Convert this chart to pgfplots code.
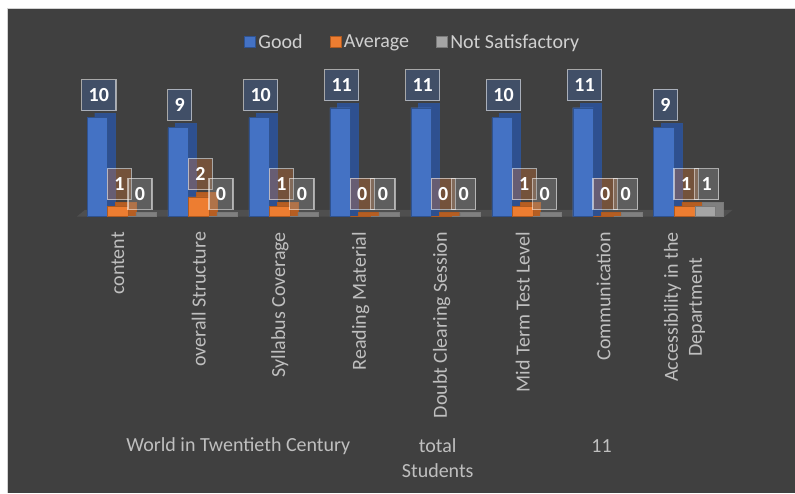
\documentclass[border=0pt]{standalone}
\usepackage{pgfplots}
\pgfplotsset{compat=1.18}
\usepackage{pgfplotstable}
\usepackage{fontspec}
\setmainfont{Carlito}

\definecolor{bg}{HTML}{404040}
\definecolor{floorc}{HTML}{4F4F4F}
\definecolor{txt}{HTML}{BFBFBF}
\definecolor{legtxt}{HTML}{D0D0D0}
\definecolor{goodc}{HTML}{4472C4}
\definecolor{goodd}{HTML}{2F528F}
\definecolor{goods}{HTML}{2E5090}
\definecolor{avgc}{HTML}{ED7D31}
\definecolor{avgd}{HTML}{AE5A21}
\definecolor{avgs}{HTML}{B65E22}
\definecolor{nsc}{HTML}{A5A5A5}
\definecolor{nsd}{HTML}{7A7A7A}
\definecolor{nss}{HTML}{808080}

% ratings per aspect: Good, Average, Not Satisfactory
\pgfplotstableread{
x good avg ns
0 10 1 0
1 9 2 0
2 10 1 0
3 11 0 0
4 11 0 0
5 10 1 0
6 11 0 0
7 9 1 1
}\ratings

\newcommand{\bigf}{\fontsize{20}{24}\selectfont}

\begin{document}
\begin{tikzpicture}[x=1pt,y=1pt]
\fill[white] (0,0) rectangle (795,493);
\draw[gray!35, line width=1pt] (7.5,0) -- (7.5,484.5) -- (795,484.5);
\fill[bg] (8,0) rectangle (795,484);
% floor of the 3-d chart
\fill[floorc] (77,276.3) -- (725,276.3) -- (733,283) -- (85,283) -- cycle;
\begin{axis}[
    at={(77.5pt,276.3pt)}, anchor=south west,
    scale only axis, width=648pt, height=118.8pt,
    xmin=-0.5, xmax=7.5, ymin=0, ymax=12,
    clip=false,
    axis line style={draw=none},
    major tick length=0pt,
    ytick=\empty,
    xtick=data,
    xticklabels={content,overall Structure,Syllabus Coverage,Reading Material,Doubt Clearing Session,Mid Term Test Level,Communication,{Accessibility in the\\Department}},
    xticklabel style={rotate=90, anchor=east, align=center, text=txt, font=\bigf, inner sep=0pt, xshift=-15.3pt},
    /pgf/number format/assume math mode=true,
    ybar, bar width=20.6pt,
    legend columns=3,
    legend style={at={(0.5177,1.4705)}, anchor=center, draw=none, fill=none,
        text=legtxt, font=\bigf,
        /tikz/every even column/.append style={column sep=25pt}},
    legend image code/.code={\filldraw[#1, line width=1.2pt] (0pt,-5.5pt) rectangle (11pt,5.5pt);},
    every node near coord/.append style={anchor=south, yshift=6.5pt, xshift=1.5pt,
        font=\bfseries\bigf, text=white, text opacity=1, draw=white, draw opacity=0.55,
        line width=1.2pt, inner xsep=7pt, minimum height=31pt},
]
% Good
\addplot[fill=goods, draw=goodd, bar shift=-12.9pt, forget plot] table[x=x, y expr=\thisrow{good}+0.45] {\ratings};
\addplot[fill=goodc, draw=goodd, bar shift=-20.6pt, nodes near coords,
    every node near coord/.append style={fill=goodc, fill opacity=0.3}] table[x=x, y=good] {\ratings};
\addlegendentry{Good}
% Average
\addplot[fill=avgs, draw=avgd, bar shift=7.7pt, forget plot] table[x=x, y expr=\thisrow{avg}+0.45] {\ratings};
\addplot[fill=avgc, draw=avgd, bar shift=0pt, nodes near coords,
    every node near coord/.append style={fill=avgc, fill opacity=0.3}] table[x=x, y=avg] {\ratings};
\addlegendentry{Average}
% Not Satisfactory
\addplot[fill=nss, draw=nsd, bar shift=28.3pt, forget plot] table[x=x, y expr=\thisrow{ns}+0.45] {\ratings};
\addplot[fill=nsc, draw=nsd, bar shift=20.6pt, nodes near coords,
    every node near coord/.append style={fill=nsc, fill opacity=0.3}] table[x=x, y=ns] {\ratings};
\addlegendentry{Not Satisfactory}
\end{axis}
\node[text=txt, font=\bigf] at (238.5,47) {World in Twentieth Century};
\node[text=txt, font=\bigf] at (438,47) {total};
\node[text=txt, font=\bigf] at (438,22.5) {Students};
\node[text=txt, font=\bigf] at (602,47) {11};
\end{tikzpicture}
\end{document}
